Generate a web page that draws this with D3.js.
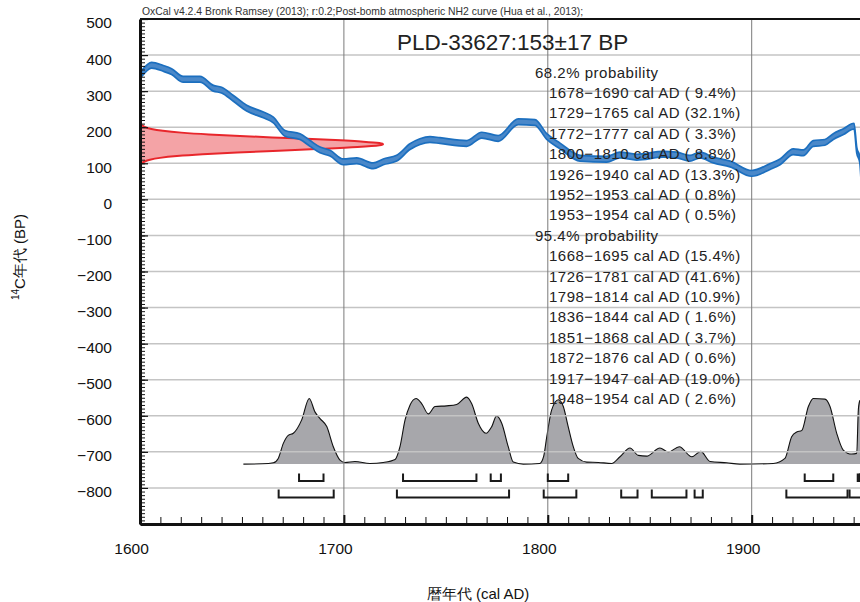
<!DOCTYPE html>
<html><head><meta charset="utf-8">
<script src="https://cdn.jsdelivr.net/npm/d3@7"></script>
<style>body{margin:0;background:#fff}svg{display:block;font-family:"Liberation Sans",Arial,sans-serif}</style>
</head><body>
<svg id="chart" width="860" height="602"></svg>
<script>
// ---------- data ----------
const headerText = "OxCal v4.2.4 Bronk Ramsey (2013); r:0.2;Post-bomb atmospheric NH2 curve (Hua et al., 2013);";
const titleText = "PLD-33627:153\u00B117 BP";
const xTickValues = [1600, 1700, 1800, 1900];
const xTickLabels = ["1600", "1700", "1800", "1900"];
const yTickValues = [500, 400, 300, 200, 100, 0, -100, -200, -300, -400, -500, -600, -700, -800];
const yTickLabels = ["500","400","300","200","100","0","\u2212100","\u2212200","\u2212300","\u2212400","\u2212500","\u2212600","\u2212700","\u2212800"];

// calibration curve (cal AD, 14C BP)
const curveYears = [1600.8,1605.7,1611.4,1615.5,1621.2,1629.4,1636,1640,1645.8,1652.3,1660.5,1665.4,1671.1,1678.5,1683.4,1688.3,1693.2,1699.7,1706.3,1714.4,1719.3,1725.9,1732.4,1737.3,1742.2,1747.1,1760.2,1767.6,1775.7,1785.5,1793.7,1799.5,1806,1815.8,1828.9,1835.4,1843.6,1856.6,1863.2,1869.7,1874.6,1881.2,1889.4,1900,1909,1913.9,1920.4,1925.3,1930.2,1935.9,1940,1945,1950.2,1951.5,1953,1955];
const curveBP    = [349,372,363,354,333,333,308,303,280,253,234,220,183,174,155,137,128,104,107,93,104,114,146,160,166,163,155,178,169,215,213,174,148,114,111,123,117,125,123,114,123,109,98,72,91,104,132,129,155,158,174,188,203,137,110,-150];
const curveSigma = 8;

// measured date distribution (14C BP, relative probability)
const dateBP      = [100,105,110,115,120,125,130,135,140,145,150,153,156,160,165,170,175,180,185,190,195,200,206];
const dateDensity = [0.008,0.019,0.041,0.082,0.152,0.258,0.40,0.571,0.746,0.895,0.985,1,0.985,0.919,0.779,0.607,0.433,0.283,0.170,0.094,0.047,0.022,0.008];

// calibrated distribution (cal AD, relative probability)
const distYears   = [1650.7,1660,1665.4,1667.8,1670.3,1672.7,1675.2,1679.3,1683,1685.8,1688.3,1691.6,1694.8,1698.1,1700.5,1705.4,1712.8,1719.3,1725.1,1727.5,1730,1732.4,1735.4,1738.2,1741.4,1744.7,1750.4,1755.3,1760.2,1762.7,1765.9,1769.7,1772.5,1774.9,1777.4,1780.6,1783.1,1788,1796,1798,1799.5,1801.9,1805.2,1807.6,1810,1812.5,1814.9,1819.1,1824.8,1831.3,1835.4,1840.3,1844.4,1848.5,1855,1859.1,1864.5,1870.6,1875,1879.6,1887.7,1894.2,1910.6,1916.3,1919.6,1922.1,1924.5,1927.8,1930.2,1935.9,1938.4,1941.7,1944.9,1949,1951.5,1952.3,1953,1954,1955];
const distDensity = [0,0.005,0.02,0.085,0.31,0.43,0.46,0.66,0.98,0.78,0.68,0.56,0.26,0.06,0.025,0.04,0.01,0.025,0.07,0.26,0.66,0.88,0.98,0.90,0.75,0.86,0.87,0.89,1.0,0.90,0.61,0.46,0.56,0.72,0.61,0.26,0.03,0,0.01,0.12,0.41,0.81,0.96,0.86,0.56,0.26,0.085,0.03,0.025,0.01,0.11,0.24,0.13,0.12,0.24,0.18,0.26,0.11,0.19,0.04,0.02,0,0.01,0.085,0.41,0.48,0.50,0.86,0.98,0.97,0.86,0.46,0.21,0.15,0.16,0.81,0.95,0.5,0];

// probability ranges
const range68 = [[1678,1690],[1729,1765],[1772,1777],[1800,1810],[1926,1940],[1952,1953],[1953,1954]];
const range95 = [[1668,1695],[1726,1781],[1798,1814],[1836,1844],[1851,1868],[1872,1876],[1917,1947],[1948,1954]];
const text68Header = "68.2% probability";
const text68 = ["1678\u22121690 cal AD ( 9.4%)","1729\u22121765 cal AD (32.1%)","1772\u22121777 cal AD ( 3.3%)","1800\u22121810 cal AD ( 8.8%)","1926\u22121940 cal AD (13.3%)","1952\u22121953 cal AD ( 0.8%)","1953\u22121954 cal AD ( 0.5%)"];
const text95Header = "95.4% probability";
const text95 = ["1668\u22121695 cal AD (15.4%)","1726\u22121781 cal AD (41.6%)","1798\u22121814 cal AD (10.9%)","1836\u22121844 cal AD ( 1.6%)","1851\u22121868 cal AD ( 3.7%)","1872\u22121876 cal AD ( 0.6%)","1917\u22121947 cal AD (19.0%)","1948\u22121954 cal AD ( 2.6%)"];

// ---------- layout ----------
const svg = d3.select("#chart");
const x = d3.scaleLinear().domain([1600, 2000]).range([140, 140 + 4 * 203.9]);
const y = d3.scaleLinear().domain([-900, 500]).range([524, 19]);
const distBase = y(-734);
const dScale = d3.scaleLinear().domain([0, 1]).range([distBase, distBase - 67]);
const rScale = d3.scaleLinear().domain([0, 1]).range([x(1600), x(1600) + 243]);

const defs = svg.append("defs");
defs.append("clipPath").attr("id", "plotclip").append("rect")
  .attr("x", x(1600)).attr("y", y(500)).attr("width", 900).attr("height", y(-900) - y(500));

const plot = svg.append("g").attr("clip-path", "url(#plotclip)");

// gray calibrated distribution
const distData = distYears.map((yr, i) => ({yr, d: distDensity[i]}));
plot.append("path").datum(distData)
  .attr("d", d3.area().x(p => x(p.yr)).y0(distBase).y1(p => dScale(p.d)).curve(d3.curveMonotoneX))
  .attr("fill", "#a7a7ab");
plot.append("path").datum(distData)
  .attr("d", d3.line().x(p => x(p.yr)).y(p => dScale(p.d)).curve(d3.curveMonotoneX))
  .attr("fill", "none").attr("stroke", "#111").attr("stroke-width", 1.1);

// gridlines
plot.append("g").selectAll("line").data(d3.range(-800, 500, 100)).join("line")
  .attr("x1", x(1600)).attr("x2", 900).attr("y1", d => y(d)).attr("y2", d => y(d))
  .attr("stroke", "#c4c4c4").attr("stroke-width", 1.5);
plot.append("g").selectAll("line").data([1700, 1800, 1900, 2000]).join("line")
  .attr("x1", d => x(d)).attr("x2", d => x(d)).attr("y1", y(500)).attr("y2", y(-900))
  .attr("stroke", "#7a7a7a").attr("stroke-width", 1);

// brackets
function brackets(ranges, top, h) {
  const g = plot.append("g").attr("fill", "none").attr("stroke", "#1a1a1a").attr("stroke-width", 2);
  g.selectAll("path").data(ranges).join("path")
    .attr("d", r => {
      const p = d3.path();
      p.moveTo(x(r[0]), top); p.lineTo(x(r[0]), top + h);
      p.lineTo(x(r[1]), top + h); p.lineTo(x(r[1]), top);
      return p.toString();
    });
}
brackets(range68, distBase + 9.5, 7.5);
brackets(range95, distBase + 25.5, 8);

// red date distribution
const dateData = dateBP.map((b, i) => ({b, d: dateDensity[i]}));
plot.append("path").datum(dateData)
  .attr("d", d3.area().y(p => y(p.b)).x0(x(1600)).x1(p => rScale(p.d)).curve(d3.curveMonotoneY))
  .attr("fill", "#f4a3a6").attr("stroke", "none");
plot.append("path").datum(dateData)
  .attr("d", d3.line().y(p => y(p.b)).x(p => rScale(p.d)).curve(d3.curveMonotoneY))
  .attr("fill", "none").attr("stroke", "#e8262b").attr("stroke-width", 2);

// calibration curve band
const curveData = curveYears.map((yr, i) => ({yr, b: curveBP[i]}));
plot.append("path").datum(curveData)
  .attr("d", d3.area().x(p => x(p.yr)).y0(p => y(p.b - curveSigma)).y1(p => y(p.b + curveSigma)).curve(d3.curveMonotoneX))
  .attr("fill", "#4a88c9").attr("stroke", "#1c6fbf").attr("stroke-width", 1.7).attr("stroke-linejoin", "round");

// ---------- axes ----------
const yAxisMinor = d3.axisLeft(y).tickValues(d3.range(-900, 501, 10)).tickFormat("").tickSizeInner(-5).tickSizeOuter(0);
svg.append("g").attr("transform", `translate(${x(1600)},0)`).call(yAxisMinor)
  .call(g => g.select(".domain").remove())
  .selectAll("line").attr("stroke", "#111").attr("stroke-width", 1);

const yAxis = d3.axisLeft(y).tickValues(yTickValues).tickFormat((d, i) => yTickLabels[i]).tickSizeInner(-8).tickSizeOuter(0).tickPadding(28);
const gy = svg.append("g").attr("transform", `translate(${x(1600)},0)`).call(yAxis);
gy.select(".domain").attr("stroke", "#111").attr("stroke-width", 3);
gy.selectAll(".tick line").attr("stroke", "#111").attr("stroke-width", 1.2);
gy.selectAll(".tick text").attr("font-size", 15.5).attr("fill", "#111")
  .attr("font-family", "'Liberation Sans', Arial, sans-serif").attr("dy", "0.32em").attr("transform", "translate(0,4)");

const xAxisMinor = d3.axisBottom(x).tickValues(d3.range(1600, 2001, 10)).tickFormat("").tickSizeInner(-7).tickSizeOuter(0);
svg.append("g").attr("transform", `translate(0,${y(-900)})`).call(xAxisMinor)
  .call(g => g.select(".domain").remove())
  .selectAll("line").attr("stroke", "#111").attr("stroke-width", 1);

const xAxis = d3.axisBottom(x).tickValues(xTickValues).tickFormat((d, i) => xTickLabels[i]).tickSizeInner(-9).tickSizeOuter(0).tickPadding(18.5);
const gx = svg.append("g").attr("transform", `translate(0,${y(-900)})`).call(xAxis);
gx.select(".domain").attr("stroke", "#111").attr("stroke-width", 3);
gx.selectAll(".tick line").attr("stroke", "#111").attr("stroke-width", 2);
gx.selectAll(".tick text").attr("font-size", 15.5).attr("fill", "#111")
  .attr("font-family", "'Liberation Sans', Arial, sans-serif").attr("transform", "translate(-9,0)");

// top frame
svg.append("line").attr("x1", x(1600)).attr("x2", 900).attr("y1", y(500)).attr("y2", y(500))
  .attr("stroke", "#111").attr("stroke-width", 2);

// ---------- texts ----------
svg.append("text").attr("x", 142).attr("y", 15).attr("font-size", 10.4).attr("fill", "#333")
  .text(headerText);
svg.append("text").attr("x", 397).attr("y", 50).attr("font-size", 22.5).attr("fill", "#222")
  .text(titleText);

const tg = svg.append("g").attr("font-size", 15).attr("letter-spacing", 0.5).attr("fill", "#222");
const lineH = 20.4;
let row = 0;
function addLine(txt, xx) {
  tg.append("text").attr("x", xx).attr("y", 77.5 + row * lineH).text(txt);
  row++;
}
addLine(text68Header, 535);
text68.forEach(t => addLine(t, 549));
addLine(text95Header, 535);
text95.forEach(t => addLine(t, 549));

// axis titles
const yt = svg.append("text").attr("transform", "translate(25,257) rotate(-90)").attr("text-anchor", "middle")
  .attr("font-size", 15).attr("fill", "#111");
yt.append("tspan").attr("font-size", 10).attr("dy", -6).text("14");
yt.append("tspan").attr("dy", 6).text("C\u5E74\u4EE3 (BP)");
svg.append("text").attr("x", 478).attr("y", 599).attr("text-anchor", "middle").attr("font-size", 15).attr("fill", "#111")
  .text("\u66A6\u5E74\u4EE3 (cal AD)");
</script>
</body></html>
